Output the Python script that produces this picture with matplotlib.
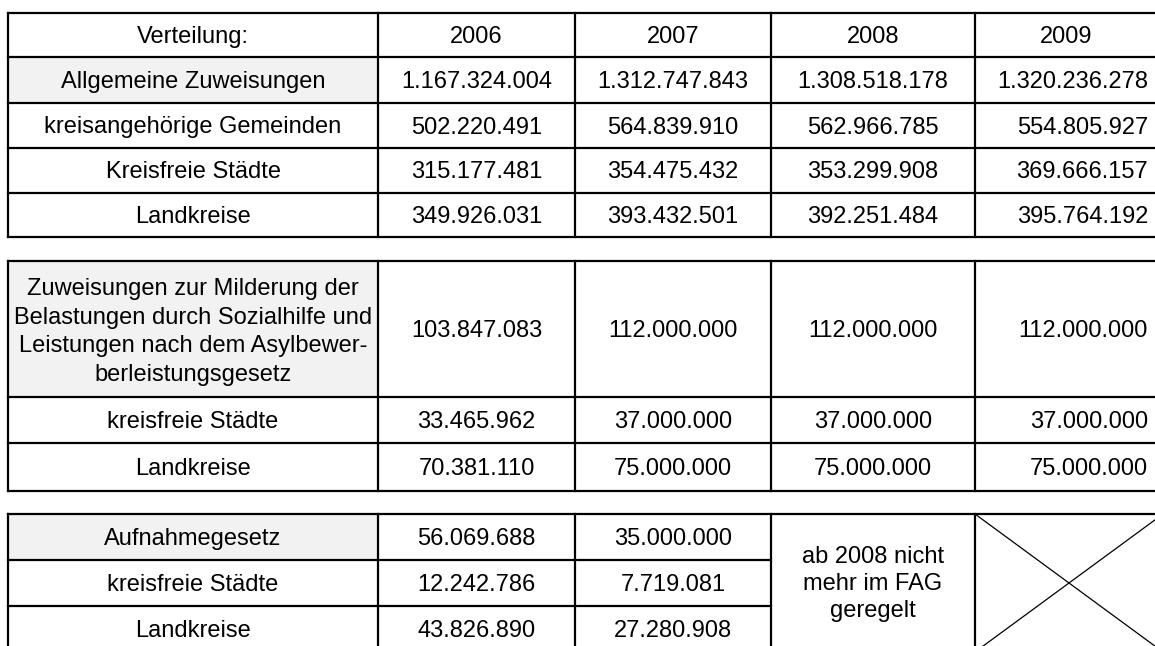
import matplotlib
matplotlib.use("Agg")
import matplotlib.pyplot as plt
from matplotlib.patches import Rectangle

# ---------------- data ----------------
header_label = "Verteilung:"
years = ["2006", "2007", "2008", "2009"]

sec1_labels = ["Allgemeine Zuweisungen", "kreisangehörige Gemeinden",
               "Kreisfreie Städte", "Landkreise"]
sec1_2006 = [1167324004, 502220491, 315177481, 349926031]
sec1_2007 = [1312747843, 564839910, 354475432, 393432501]
sec1_2008 = [1308518178, 562966785, 353299908, 392251484]
sec1_2009 = [1320236278, 554805927, 369666157, 395764192]

sec2_labels = ["Zuweisungen zur Milderung der\nBelastungen durch Sozialhilfe und\n"
               "Leistungen nach dem Asylbewer-\nberleistungsgesetz",
               "kreisfreie Städte", "Landkreise"]
sec2_2006 = [103847083, 33465962, 70381110]
sec2_2007 = [112000000, 37000000, 75000000]
sec2_2008 = [112000000, 37000000, 75000000]
sec2_2009 = [112000000, 37000000, 75000000]

sec3_labels = ["Aufnahmegesetz", "kreisfreie Städte", "Landkreise"]
sec3_2006 = [56069688, 12242786, 43826890]
sec3_2007 = [35000000, 7719081, 27280908]
sec3_note = "ab 2008 nicht\nmehr im FAG\ngeregelt"


def fmt(v):
    return f"{v:,}".replace(",", ".")


# ---------------- layout (pixel coordinates) ----------------
W, H = 1155, 646
cols = [8, 378, 575, 771, 975, 1163]
sec1_rows = [13, 57, 103, 148, 193, 237]
sec2_rows = [261, 397, 443, 491]
sec3_rows = [514, 560, 606, 652]
gray = "#f2f2f2"
lw = 1.6
FS = 17
FONT = "Liberation Sans"
right_x = 1148
DY = 2

fig = plt.figure(figsize=(W / 100, H / 100), dpi=100)
ax = fig.add_axes([0, 0, 1, 1])
ax.set_xlim(0, W)
ax.set_ylim(H, 0)
ax.axis("off")


def txt(x, y, s, ha="center", ls=1.22):
    ax.text(x, y + DY, s, ha=ha, va="center", fontsize=FS, family=FONT,
            linespacing=ls, color="black")


def grid(rows, xs):
    for y in rows:
        ax.plot([xs[0], xs[-1]], [y, y], color="black", lw=lw, solid_capstyle="projecting")
    for x in xs:
        ax.plot([x, x], [rows[0], rows[-1]], color="black", lw=lw, solid_capstyle="projecting")


def ccol(i):
    return (cols[i] + cols[i + 1]) / 2


def rcen(rows, i):
    return (rows[i] + rows[i + 1]) / 2


# ---- section 1 ----
ax.add_patch(Rectangle((cols[0], sec1_rows[1]), cols[1] - cols[0],
                       sec1_rows[2] - sec1_rows[1], color=gray, lw=0))
grid(sec1_rows, cols)
txt(ccol(0), rcen(sec1_rows, 0), header_label)
for j, yr in enumerate(years):
    txt(ccol(j + 1) if j < 3 else 1066, rcen(sec1_rows, 0), yr)
for i, lab in enumerate(sec1_labels):
    y = rcen(sec1_rows, i + 1)
    txt(ccol(0), y, lab)
    txt(ccol(1), y, fmt(sec1_2006[i]))
    txt(ccol(2), y, fmt(sec1_2007[i]))
    txt(ccol(3), y, fmt(sec1_2008[i]))
    txt(right_x, y, fmt(sec1_2009[i]), ha="right")

# ---- section 2 ----
ax.add_patch(Rectangle((cols[0], sec2_rows[0]), cols[1] - cols[0],
                       sec2_rows[1] - sec2_rows[0], color=gray, lw=0))
grid(sec2_rows, cols)
for i, lab in enumerate(sec2_labels):
    y = rcen(sec2_rows, i)
    if i == 0:
        txt(ccol(0), y + 1, lab, ls=1.38)
    else:
        txt(ccol(0), y, lab)
    txt(ccol(1), y, fmt(sec2_2006[i]))
    txt(ccol(2), y, fmt(sec2_2007[i]))
    txt(ccol(3), y, fmt(sec2_2008[i]))
    txt(right_x, y, fmt(sec2_2009[i]), ha="right")

# ---- section 3 ----
ax.add_patch(Rectangle((cols[0], sec3_rows[0]), cols[1] - cols[0],
                       sec3_rows[1] - sec3_rows[0], color=gray, lw=0))
for y in sec3_rows:
    ax.plot([cols[0], cols[5]] if y in (sec3_rows[0], sec3_rows[-1]) else [cols[0], cols[3]],
            [y, y], color="black", lw=lw, solid_capstyle="projecting")
for x in cols:
    ax.plot([x, x], [sec3_rows[0], sec3_rows[-1]], color="black", lw=lw,
            solid_capstyle="projecting")
for i, lab in enumerate(sec3_labels):
    y = rcen(sec3_rows, i)
    txt(ccol(0), y, lab)
    txt(ccol(1), y, fmt(sec3_2006[i]))
    txt(ccol(2), y, fmt(sec3_2007[i]))
txt(ccol(3), rcen([sec3_rows[0], sec3_rows[-1]], 0) - 1, sec3_note, ls=1.3)
# crossed-out cell
ax.plot([cols[4], cols[5]], [sec3_rows[0], sec3_rows[-1]], color="black", lw=0.9)
ax.plot([cols[4], cols[5]], [sec3_rows[-1], sec3_rows[0]], color="black", lw=0.9)

fig.savefig("out.png", dpi=100, facecolor="white")
